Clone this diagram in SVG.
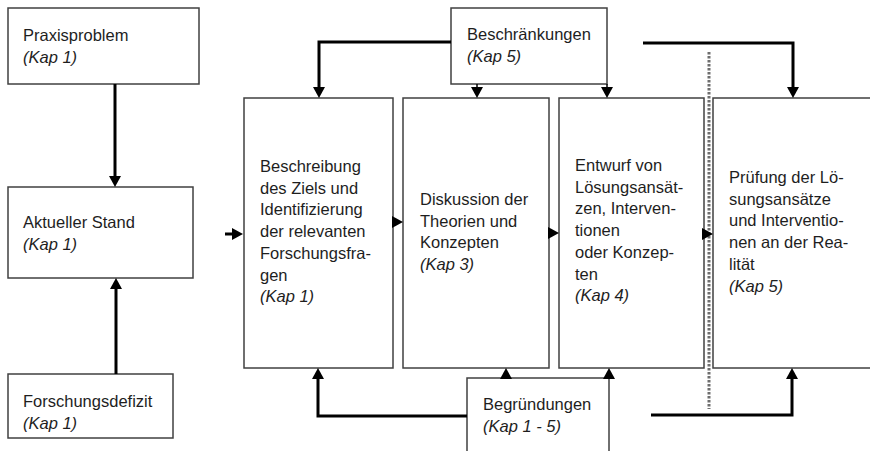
<svg xmlns="http://www.w3.org/2000/svg" width="870" height="451" viewBox="0 0 870 451">
<style>
.box{fill:#fff;stroke:#404040;stroke-width:1.5}
.t{font-family:"Liberation Sans",Arial,sans-serif;font-size:16.5px;fill:#1e1e1e}
.k{font-style:italic}
.c{fill:none;stroke:#000;stroke-width:3}
.thin{fill:none;stroke:#000;stroke-width:1.5}
.dot{fill:none;stroke:#6e6e6e;stroke-width:3;stroke-dasharray:2.4 1.6}
</style>
<defs>
<marker id="ah" viewBox="0 0 11 12" markerWidth="11" markerHeight="12" refX="7" refY="6" orient="auto" markerUnits="userSpaceOnUse">
<path d="M0,0 L11,6 L0,12 Z" fill="#000"/>
</marker>
</defs>
<rect width="870" height="451" fill="#fff"/>

<g id="praxisproblem">
<rect class="box" x="8" y="8" width="191" height="76"/>
<text class="t" x="23" y="41">Praxisproblem</text>
<text class="t k" x="23" y="63">(Kap 1)</text>
</g>
<g id="aktueller-stand">
<rect class="box" x="8" y="187" width="185" height="91"/>
<text class="t" x="23" y="228">Aktueller Stand</text>
<text class="t k" x="23" y="250">(Kap 1)</text>
</g>
<g id="forschungsdefizit">
<rect class="box" x="8" y="374" width="165" height="64"/>
<text class="t" x="23" y="407">Forschungsdefizit</text>
<text class="t k" x="23" y="429">(Kap 1)</text>
</g>

<g id="beschraenkungen">
<rect class="box" x="451" y="8" width="156" height="76"/>
<text class="t" x="467" y="40">Beschränkungen</text>
<text class="t k" x="467" y="62">(Kap 5)</text>
</g>
<g id="begruendungen">
<rect class="box" x="467" y="378" width="142" height="90"/>
<text class="t" x="483" y="410">Begründungen</text>
<text class="t k" x="483" y="432">(Kap 1 - 5)</text>
</g>

<g id="beschreibung">
<rect class="box" x="244" y="98" width="149" height="270"/>
<text class="t" x="260" y="172">Beschreibung</text>
<text class="t" x="260" y="193.7">des Ziels und</text>
<text class="t" x="260" y="215.4">Identifizierung</text>
<text class="t" x="260" y="237.1">der relevanten</text>
<text class="t" x="260" y="258.8">Forschungsfra-</text>
<text class="t" x="260" y="280.5">gen</text>
<text class="t k" x="260" y="302.2">(Kap 1)</text>
</g>
<g id="diskussion">
<rect class="box" x="403" y="98" width="146" height="270"/>
<text class="t" x="420" y="205">Diskussion der</text>
<text class="t" x="420" y="226.7">Theorien und</text>
<text class="t" x="420" y="248.4">Konzepten</text>
<text class="t k" x="420" y="270.1">(Kap 3)</text>
</g>
<g id="entwurf">
<rect class="box" x="559" y="98" width="145" height="270"/>
<text class="t" x="575" y="171">Entwurf von</text>
<text class="t" x="575" y="192.7">Lösungsansät-</text>
<text class="t" x="575" y="214.4">zen, Interven-</text>
<text class="t" x="575" y="236.1">tionen</text>
<text class="t" x="575" y="257.8">oder Konzep-</text>
<text class="t" x="575" y="279.5">ten</text>
<text class="t k" x="575" y="301.2">(Kap 4)</text>
</g>
<g id="pruefung">
<rect class="box" x="713" y="98" width="170" height="270"/>
<text class="t" x="729" y="183">Prüfung der Lö-</text>
<text class="t" x="729" y="204.7">sungsansätze</text>
<text class="t" x="729" y="226.4">und Interventio-</text>
<text class="t" x="729" y="248.1">nen an der Rea-</text>
<text class="t" x="729" y="269.8">lität</text>
<text class="t k" x="729" y="291.5">(Kap 5)</text>
</g>

<g id="connectors">
<path class="dot" d="M709,52 V409"/>
<path class="c" d="M115,84 V183" marker-end="url(#ah)"/>
<path class="c" d="M116,374 V282" marker-end="url(#ah)"/>
<path class="c" d="M225,234 H239" marker-end="url(#ah)"/>
<path class="thin" d="M392,222 H399" marker-end="url(#ah)"/>
<path class="thin" d="M548,233 H555" marker-end="url(#ah)"/>
<path class="thin" d="M702,234 H709" marker-end="url(#ah)"/>
<path class="c" d="M451,42 H319 V94" marker-end="url(#ah)"/>
<path class="thin" d="M477,84 V94" marker-end="url(#ah)"/>
<path class="thin" d="M607,84 V94" marker-end="url(#ah)"/>
<path class="c" d="M643,43 H793 V94" marker-end="url(#ah)"/>
<path class="c" d="M467,416 H318 V372" marker-end="url(#ah)"/>
<path class="thin" d="M506,378 V372" marker-end="url(#ah)"/>
<path class="thin" d="M609,378 V372" marker-end="url(#ah)"/>
<path class="c" d="M651,415 H792 V372" marker-end="url(#ah)"/>
</g>
</svg>
